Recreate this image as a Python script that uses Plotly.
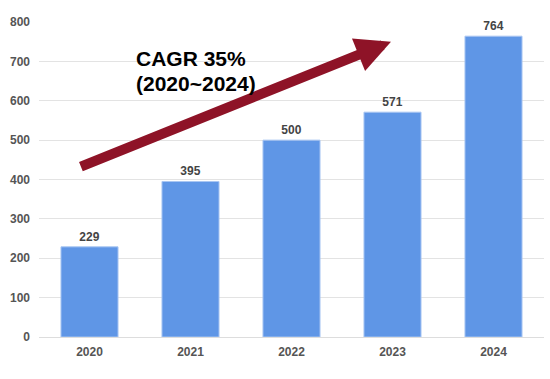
import plotly.graph_objects as go

years = ["2020", "2021", "2022", "2023", "2024"]
values = [229, 395, 500, 571, 764]
y_ticks = [0, 100, 200, 300, 400, 500, 600, 700, 800]
cagr_lines = ["CAGR 35%", "(2020~2024)"]

fig = go.Figure(go.Bar(
    x=years, y=values,
    marker=dict(color="#5F96E6", line=dict(color="#A9C6F2", width=1)),
    text=[str(v) for v in values], textposition="outside",
    textfont=dict(family="Liberation Sans, Arial", size=12, color="#444444"),
    cliponaxis=False,
))

fig.update_layout(
    width=550, height=379,
    margin=dict(l=39, r=6, t=22, b=42),
    plot_bgcolor="white", paper_bgcolor="white",
    bargap=0.435, showlegend=False,
    font=dict(family="Liberation Sans, Arial", size=12, color="#555555"),
)
fig.update_xaxes(showgrid=False, showline=False, ticks="", ticklabelstandoff=6,
                 tickfont=dict(family="Liberation Sans, Arial", size=12, color="#555555", weight="bold"))
fig.update_yaxes(range=[0, 800], tickvals=y_ticks, showgrid=True, gridcolor="#E3E3E3", gridwidth=1,
                 zeroline=True, zerolinecolor="#DDDDDD", zerolinewidth=1, showline=False, ticks="",
                 ticklabelstandoff=8,
                 tickfont=dict(family="Liberation Sans, Arial", size=12, color="#555555", weight="bold"))
fig.update_traces(textfont=dict(weight="bold"))

# growth arrow
fig.add_annotation(x=2.985, y=750, ax=-0.1, ay=431, xref="x", yref="y", axref="x", ayref="y",
                   text="", showarrow=True, arrowhead=2, arrowsize=0.7, arrowwidth=10,
                   arrowcolor="#8E1327", standoff=0)
for line, ypos in zip(cagr_lines, [742, 678]):
    fig.add_annotation(x=0.44, y=ypos, xref="x", yref="y", xanchor="left", yanchor="top",
                       text=line, showarrow=False, align="left",
                       font=dict(family="Liberation Sans, Arial", size=21, color="#000000", weight="bold"))

fig.write_html("out.html", post_script="document.body.style.margin='0';",
               config={"displayModeBar": False})
